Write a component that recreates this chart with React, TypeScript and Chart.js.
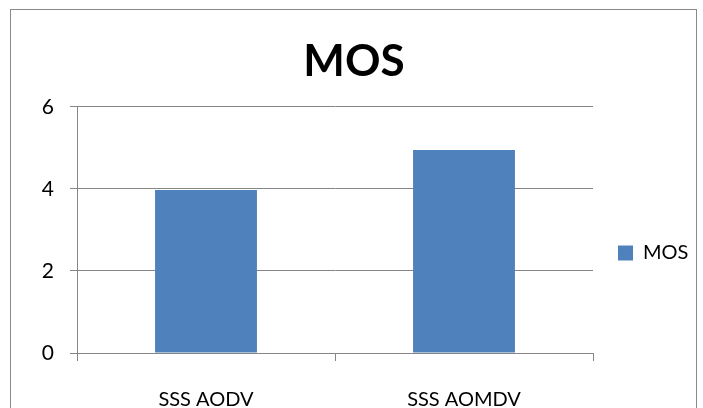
import React, { useEffect, useRef } from "react";
import { Chart, registerables } from "chart.js";

Chart.register(...registerables);

const categories: string[] = ["SSS AODV", "SSS AOMDV"];
const seriesName = "MOS";
const mosValues: number[] = [3.97, 4.95];
const chartTitle = "MOS";
const yMin = 0;
const yMax = 6;
const yStep = 2;

const GRAY = "#868686";
const BLUE = "#4F81BD";

const framePlugin = {
  id: "frame",
  beforeDraw(chart: any) {
    const ctx = chart.ctx;
    ctx.save();
    ctx.fillStyle = "#ffffff";
    ctx.fillRect(0, 0, chart.width, chart.height);
    ctx.strokeStyle = "#8a8a8a";
    ctx.lineWidth = 1;
    ctx.strokeRect(10.5, 9.5, 686, 500);
    ctx.restore();
  },
};

export default function App() {
  const ref = useRef<HTMLCanvasElement | null>(null);

  useEffect(() => {
    if (!ref.current) return;
    Chart.defaults.font.family = "Lato";
    Chart.defaults.color = "#000000";
    const chart = new Chart(ref.current, {
      type: "bar",
      data: {
        labels: categories,
        datasets: [
          {
            label: seriesName,
            data: mosValues,
            backgroundColor: BLUE,
            borderWidth: 0,
            categoryPercentage: 1,
            barPercentage: 0.395,
          },
        ],
      },
      options: {
        responsive: false,
        animation: false,
        devicePixelRatio: 1,
        layout: { padding: { left: 11, right: 6, top: 0, bottom: 0 } },
        plugins: {
          title: {
            display: true,
            text: chartTitle,
            font: { size: 44, weight: "bold", family: "Lato" },
            color: "#000000",
            padding: { top: 35, bottom: 19 },
          },
          legend: {
            display: true,
            position: "right",
            fullSize: false,
            align: "center",
            maxWidth: 104,
            title: {
              display: true,
              text: "",
              font: { size: 10, lineHeight: 1 },
              padding: { top: 0, bottom: 36 },
            },
            labels: {
              boxWidth: 15,
              boxHeight: 15,
              padding: 25,
              font: { size: 20, family: "Lato" },
              color: "#000000",
            },
          },
          tooltip: { enabled: false },
        },
        scales: {
          x: {
            grid: {
              display: true,
              offset: true,
              drawOnChartArea: false,
              drawTicks: true,
              tickLength: 8,
              color: GRAY,
            },
            border: { display: true, color: GRAY },
            ticks: {
              font: { size: 20, family: "Lato" },
              color: "#000000",
              padding: 27,
              maxRotation: 0,
            },
            afterFit(scale: any) {
              scale.height = 55;
            },
          },
          y: {
            min: yMin,
            max: yMax,
            grid: {
              display: true,
              drawTicks: true,
              tickLength: 7,
              color: GRAY,
            },
            border: { display: true, color: GRAY },
            ticks: {
              stepSize: yStep,
              font: { size: 21, family: "Lato" },
              color: "#000000",
              padding: 16,
            },
            afterFit(scale: any) {
              scale.width = 66;
            },
          },
        },
      },
      plugins: [framePlugin],
    });
    return () => chart.destroy();
  }, []);

  return (
    <div style={{ position: "absolute", left: 0, top: 0, width: 703, height: 408 }}>
      <canvas ref={ref} width={703} height={408} style={{ display: "block" }} />
    </div>
  );
}
